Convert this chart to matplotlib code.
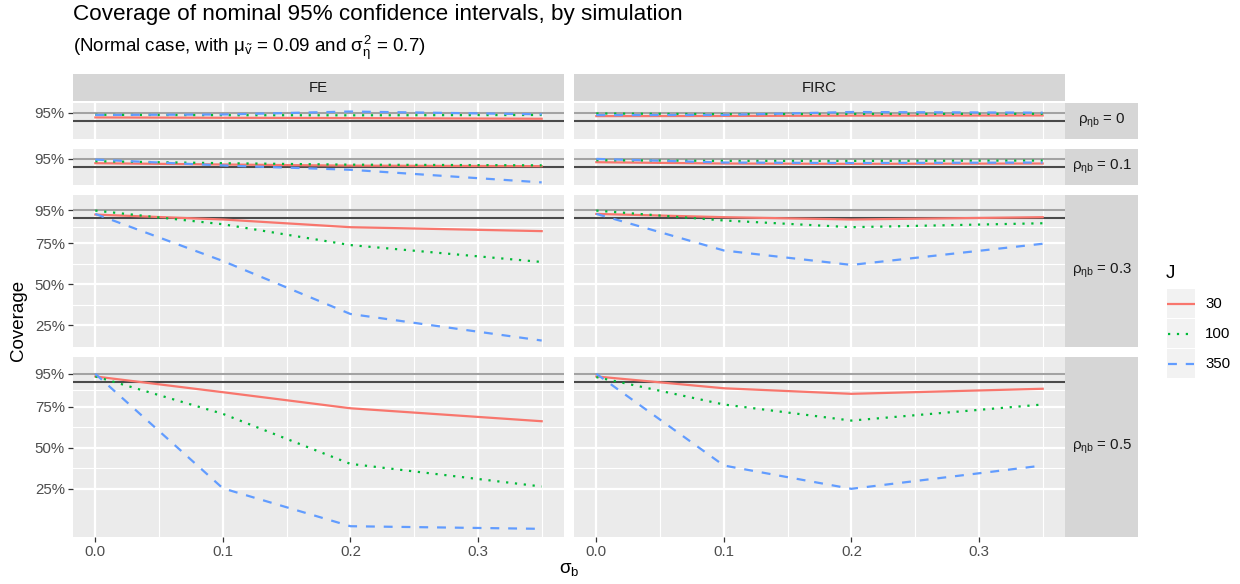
import matplotlib
matplotlib.use("Agg")
import matplotlib.pyplot as plt
from matplotlib.lines import Line2D

plt.rcParams["font.family"] = ["Liberation Sans", "DejaVu Sans"]
plt.rcParams["mathtext.fontset"] = "custom"
plt.rcParams["mathtext.rm"] = "Liberation Sans"
plt.rcParams["mathtext.it"] = "Liberation Sans"
plt.rcParams["mathtext.bf"] = "Liberation Sans:bold"

sigma_b = [0.0, 0.1, 0.2, 0.35]
methods = ["FE", "FIRC"]
rho_labels = ["0", "0.1", "0.3", "0.5"]
J_levels = ["30", "100", "350"]

# coverage by panel, one row per J (30, 100, 350)
fe_rho00 = [[0.922, 0.920, 0.918, 0.914],
            [0.938, 0.936, 0.935, 0.937],
            [0.937, 0.940, 0.958, 0.941]]
firc_rho00 = [[0.930, 0.931, 0.933, 0.934],
              [0.946, 0.942, 0.943, 0.944],
              [0.936, 0.937, 0.955, 0.951]]
fe_rho01 = [[0.924, 0.916, 0.909, 0.906],
            [0.936, 0.924, 0.915, 0.911],
            [0.946, 0.910, 0.884, 0.807]]
firc_rho01 = [[0.930, 0.922, 0.920, 0.922],
              [0.942, 0.938, 0.938, 0.940],
              [0.950, 0.928, 0.925, 0.928]]
fe_rho03 = [[0.924, 0.894, 0.847, 0.823],
            [0.948, 0.865, 0.738, 0.635],
            [0.928, 0.641, 0.318, 0.156]]
firc_rho03 = [[0.928, 0.908, 0.894, 0.908],
              [0.948, 0.888, 0.847, 0.871],
              [0.928, 0.705, 0.617, 0.746]]
fe_rho05 = [[0.934, 0.838, 0.740, 0.661],
            [0.934, 0.706, 0.401, 0.263],
            [0.950, 0.252, 0.021, 0.005]]
firc_rho05 = [[0.934, 0.862, 0.828, 0.859],
              [0.930, 0.763, 0.665, 0.763],
              [0.950, 0.391, 0.249, 0.391]]

panels = [[fe_rho00, firc_rho00],
          [fe_rho01, firc_rho01],
          [fe_rho03, firc_rho03],
          [fe_rho05, firc_rho05]]

nominal = 0.95
lower_ref = 0.902
y_breaks = [0.25, 0.50, 0.75, 0.95]
y_minor = [0.375, 0.625, 0.85]
x_breaks = [0.0, 0.1, 0.2, 0.3]
x_minor = [0.05, 0.15, 0.25, 0.35]

colors = ["#F8766D", "#00BA38", "#619CFF"]
styles = ["-", (0, (1, 3)), (0, (4, 4))]

W, H = 1240, 584
fig = plt.figure(figsize=(W / 100, H / 100), dpi=100)


def px_axes(x, y, w, h):
    return fig.add_axes([x / W, 1 - (y + h) / H, w / W, h / H])


# panel geometry in pixels
col_x = [73, 574]
panel_w = 491
strip_x, strip_w = 1065, 73
top_y, top_h = 74, 27
rows_top, rows_bottom, gap = 103, 537, 10

# free y scales: every row runs up to 100%, down to its lowest value (at most 80%)
row_lo = [min(0.80, min(min(s) for p in row for s in p)) for row in panels]
row_span = [(1.0 - lo) * 1.1 for lo in row_lo]
avail = rows_bottom - rows_top - gap * (len(panels) - 1)
row_h = [avail * s / sum(row_span) for s in row_span]

xlim = (-0.0175, 0.3675)
tick_col = "#333333"
text_col = "#4D4D4D"

y = rows_top
for r, row in enumerate(panels):
    lo = row_lo[r]
    pad = (1.0 - lo) * 0.05
    for c, data in enumerate(row):
        ax = px_axes(col_x[c], y, panel_w, row_h[r])
        ax.set_facecolor("#EBEBEB")
        for s in ax.spines.values():
            s.set_visible(False)
        ax.set_xlim(*xlim)
        ax.set_ylim(lo - pad, 1.0 + pad)
        ax.set_xticks(x_breaks)
        ax.set_xticks(x_minor, minor=True)
        majors = [b for b in y_breaks if lo - pad <= b]
        ax.set_yticks(majors)
        ax.set_yticklabels([f"{int(round(b * 100))}%" for b in majors])
        if len(majors) > 1:
            ax.set_yticks(y_minor, minor=True)
        ax.grid(which="major", color="white", lw=1.6, zorder=0)
        ax.grid(which="minor", color="white", lw=0.8, zorder=0)
        ax.set_axisbelow(True)
        ax.tick_params(which="minor", length=0)
        ax.tick_params(which="major", length=3.4, width=0.9, color=tick_col,
                       labelsize=10.8, labelcolor=text_col, pad=2.5)
        ax.tick_params(axis="y", left=(c == 0), labelleft=(c == 0))
        ax.tick_params(axis="x", bottom=(r == len(panels) - 1),
                       labelbottom=(r == len(panels) - 1))
        ax.axhline(nominal, color="#A3A3A3", lw=1.5, zorder=1)
        ax.axhline(lower_ref, color="#4A4A4A", lw=1.5, zorder=1)
        for k, series in enumerate(data):
            ax.plot(sigma_b, series, color=colors[k], linestyle=styles[k],
                    lw=1.6, zorder=2)

    # row strip on the right
    sax = px_axes(strip_x, y, strip_w, row_h[r])
    sax.set_facecolor("#D6D6D6")
    sax.set_xticks([])
    sax.set_yticks([])
    for s in sax.spines.values():
        s.set_visible(False)
    sax.text(0.5, 0.5, r"$\rho_{\eta b}$ = " + rho_labels[r], transform=sax.transAxes,
             ha="center", va="center", fontsize=10.8, color="#1A1A1A")
    y += row_h[r] + gap

# column strips on top
for c, name in enumerate(methods):
    sax = px_axes(col_x[c], top_y, panel_w, top_h)
    sax.set_facecolor("#D6D6D6")
    sax.set_xticks([])
    sax.set_yticks([])
    for s in sax.spines.values():
        s.set_visible(False)
    sax.text(0.5, 0.5, name, transform=sax.transAxes, ha="center", va="center",
             fontsize=10.8, color="#1A1A1A")

# titles and axis labels
fig.text(73 / W, 1 - 20 / H, "Coverage of nominal 95% confidence intervals, by simulation",
         fontsize=16.2, ha="left", va="baseline")
fig.text(73 / W, 1 - 52 / H,
         r"(Normal case, with $\mu_{\tilde{v}}$ = 0.09 and $\sigma^2_{\eta}$ = 0.7)",
         fontsize=13.5, ha="left", va="baseline")
fig.text(18 / W, 1 - 320 / H, "Coverage", rotation=90, fontsize=13.5,
         ha="center", va="center")
fig.text(569 / W, 1 - 570 / H, r"$\sigma_b$", fontsize=13.5, ha="center", va="center")

# legend for J
fig.text(1166 / W, 1 - 273 / H, "J", fontsize=13.5, ha="left", va="center")
for k, lab in enumerate(J_levels):
    ky = 289 + k * 30
    kax = px_axes(1167, ky, 28, 29)
    kax.set_facecolor("#F2F2F2")
    kax.set_xticks([])
    kax.set_yticks([])
    for s in kax.spines.values():
        s.set_visible(False)
    kax.set_xlim(0, 1)
    kax.set_ylim(0, 1)
    kax.add_line(Line2D([0.05, 0.95], [0.5, 0.5], color=colors[k],
                        linestyle=styles[k], lw=1.6))
    fig.text(1205 / W, 1 - (ky + 14.5) / H, lab, fontsize=10.8, ha="left",
             va="center", color="black")

fig.savefig("out.png", dpi=100)
